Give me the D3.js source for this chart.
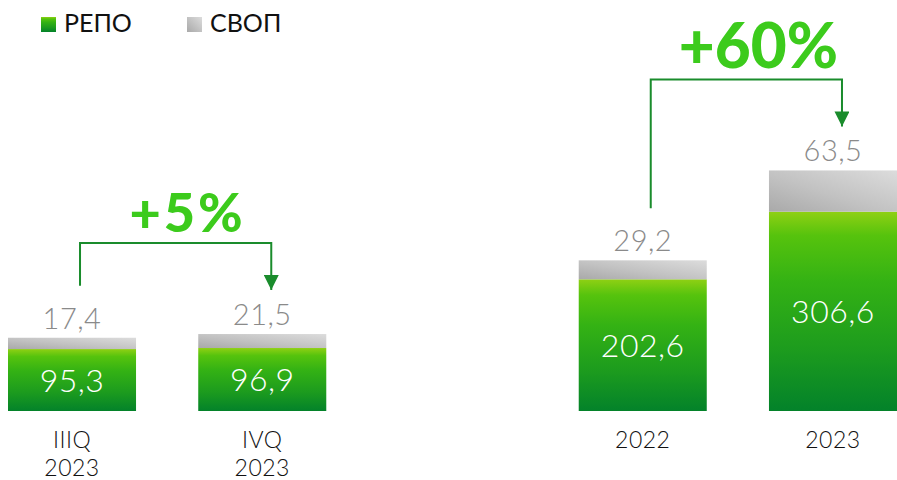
<!DOCTYPE html>
<html>
<head>
<meta charset="utf-8">
<script src="https://cdn.jsdelivr.net/npm/d3@7"></script>
<style>
  html, body { margin: 0; padding: 0; background: #fff; }
  svg { display: block; }
</style>
</head>
<body>
<svg id="chart" width="897" height="480"></svg>
<script>
// Volumes by period: REPO and SWAP operations
const categories = ["IIIQ 2023", "IVQ 2023", "2022", "2023"];
const categoryLines = [["IIIQ", "2023"], ["IVQ", "2023"], ["2022"], ["2023"]];
const repoValues = [95.3, 96.9, 202.6, 306.6];
const swapValues = [17.4, 21.5, 29.2, 63.5];
const seriesNames = ["РЕПО", "СВОП"];
const growthLabels = ["+5%", "+60%"];
const growthFrom = ["IIIQ 2023", "2022"];
const growthTo = ["IVQ 2023", "2023"];

const W = 897, H = 480;
const svg = d3.select("#chart");
const defs = svg.append("defs");

// Fills
const gGreen = defs.append("linearGradient").attr("id", "repoFill")
  .attr("x1", 0).attr("y1", 0).attr("x2", 0).attr("y2", 1);
[[0, "#8fd014"], [0.12, "#56c30d"], [0.35, "#34b214"], [0.7, "#1c9b1e"], [1, "#03822a"]]
  .forEach(([o, c]) => gGreen.append("stop").attr("offset", o).attr("stop-color", c));

const gGray = defs.append("linearGradient").attr("id", "swapFill")
  .attr("x1", 0).attr("y1", 1).attr("x2", 1).attr("y2", 0);
[[0, "#a9a9a9"], [0.45, "#c2c2c2"], [1, "#dcdcdc"]]
  .forEach(([o, c]) => gGray.append("stop").attr("offset", o).attr("stop-color", c));

const gGrayLegend = defs.append("linearGradient").attr("id", "swapLegend")
  .attr("x1", 0).attr("y1", 1).attr("x2", 1).attr("y2", 0);
[[0, "#a9a9a9"], [1, "#dcdcdc"]]
  .forEach(([o, c]) => gGrayLegend.append("stop").attr("offset", o).attr("stop-color", c));

const marker = defs.append("marker").attr("id", "arrowHead")
  .attr("viewBox", "0 0 10 10").attr("refX", 10).attr("refY", 5)
  .attr("markerUnits", "userSpaceOnUse")
  .attr("markerWidth", 16).attr("markerHeight", 15).attr("orient", "auto");
marker.append("path").attr("d", "M0,0 L10,5 L0,10 Z").attr("fill", "#1a8c2c");

// Scales
const x = d3.scaleBand()
  .domain([categories[0], categories[1], "spacer", categories[2], categories[3]])
  .range([8, 897])
  .paddingInner(0.327)
  .paddingOuter(0);
const y = d3.scaleLinear().domain([0, 400]).range([411, 151]);

const ru = d3.formatLocale({ decimal: ",", thousands: " ", grouping: [3], currency: ["", " ₽"] });
const fmt = ru.format(".1f");

const data = categories.map((c, i) => ({ cat: c, repo: repoValues[i], swap: swapValues[i], lines: categoryLines[i] }));
const bw = x.bandwidth();
const FONT = "Lato, 'Open Sans', sans-serif";

// Bars
const bars = svg.append("g").selectAll("g").data(data).join("g");
bars.append("rect")
  .attr("x", d => x(d.cat)).attr("width", bw)
  .attr("y", d => y(d.repo)).attr("height", d => y(0) - y(d.repo))
  .attr("fill", "url(#repoFill)");
bars.append("rect")
  .attr("x", d => x(d.cat)).attr("width", bw)
  .attr("y", d => y(d.repo + d.swap)).attr("height", d => y(d.repo) - y(d.repo + d.swap))
  .attr("fill", "url(#swapFill)");

// Value labels
bars.append("text")
  .attr("x", d => x(d.cat) + bw / 2)
  .attr("y", d => (y(d.repo) + y(0)) / 2)
  .attr("dy", "0.36em")
  .attr("text-anchor", "middle")
  .attr("font-family", FONT).attr("font-weight", 300).attr("font-size", 32)
  .attr("letter-spacing", 0.5)
  .attr("fill", "#fff")
  .text(d => fmt(d.repo));
bars.append("text")
  .attr("x", d => x(d.cat) + bw / 2)
  .attr("y", d => y(d.repo + d.swap) - 9)
  .attr("text-anchor", "middle")
  .attr("font-family", FONT).attr("font-weight", 300).attr("font-size", 29)
  .attr("letter-spacing", 0.5)
  .attr("fill", "#8a8a8a")
  .text(d => fmt(d.swap));

// Category labels
bars.append("text")
  .attr("x", d => x(d.cat) + bw / 2)
  .attr("text-anchor", "middle")
  .attr("font-family", FONT).attr("font-weight", 300).attr("font-size", 23)
  .attr("letter-spacing", 0.5)
  .attr("fill", "#111")
  .selectAll("tspan").data(d => d.lines).join("tspan")
  .attr("x", function() { return d3.select(this.parentNode).attr("x"); })
  .attr("y", (t, i) => 448 + i * 28)
  .text(t => t);

// Growth brackets
const byCat = new Map(data.map(d => [d.cat, d]));
const total = d => d.repo + d.swap;
growthLabels.forEach((label, i) => {
  const a = byCat.get(growthFrom[i]), b = byCat.get(growthTo[i]);
  const xa = x(a.cat) + bw / 2 + 8, xb = x(b.cat) + bw / 2 + 9;
  const top = y(Math.max(total(a), total(b))) - 91;
  const startY = y(total(a)) - 52;
  const endY = y(total(b)) - 44;
  svg.append("path")
    .attr("d", `M${xa},${startY} V${top} H${xb} V${endY}`)
    .attr("fill", "none").attr("stroke", "#1a8c2c").attr("stroke-width", 2)
    .attr("marker-end", "url(#arrowHead)");
  svg.append("text")
    .attr("x", (xa + xb) / 2 + 12)
    .attr("y", top - 11)
    .attr("text-anchor", "middle")
    .attr("font-family", FONT).attr("font-weight", 900)
    .attr("font-size", i === 0 ? 54 : 62)
    .attr("letter-spacing", i === 0 ? 3 : 0)
    .attr("fill", "#3ccb1c")
    .text(label);
});

// Legend
const legend = svg.append("g");
const legendItems = [
  { name: seriesNames[0], fill: "url(#repoFill)", x: 41 },
  { name: seriesNames[1], fill: "url(#swapLegend)", x: 187 }
];
legend.selectAll("rect").data(legendItems).join("rect")
  .attr("x", d => d.x).attr("y", 17).attr("width", 15).attr("height", 15)
  .attr("fill", d => d.fill);
legend.selectAll("text").data(legendItems).join("text")
  .attr("x", d => d.x + 23).attr("y", 32)
  .attr("font-family", FONT).attr("font-weight", 400).attr("font-size", 25)
  .attr("fill", "#111")
  .text(d => d.name);
</script>
</body>
</html>
